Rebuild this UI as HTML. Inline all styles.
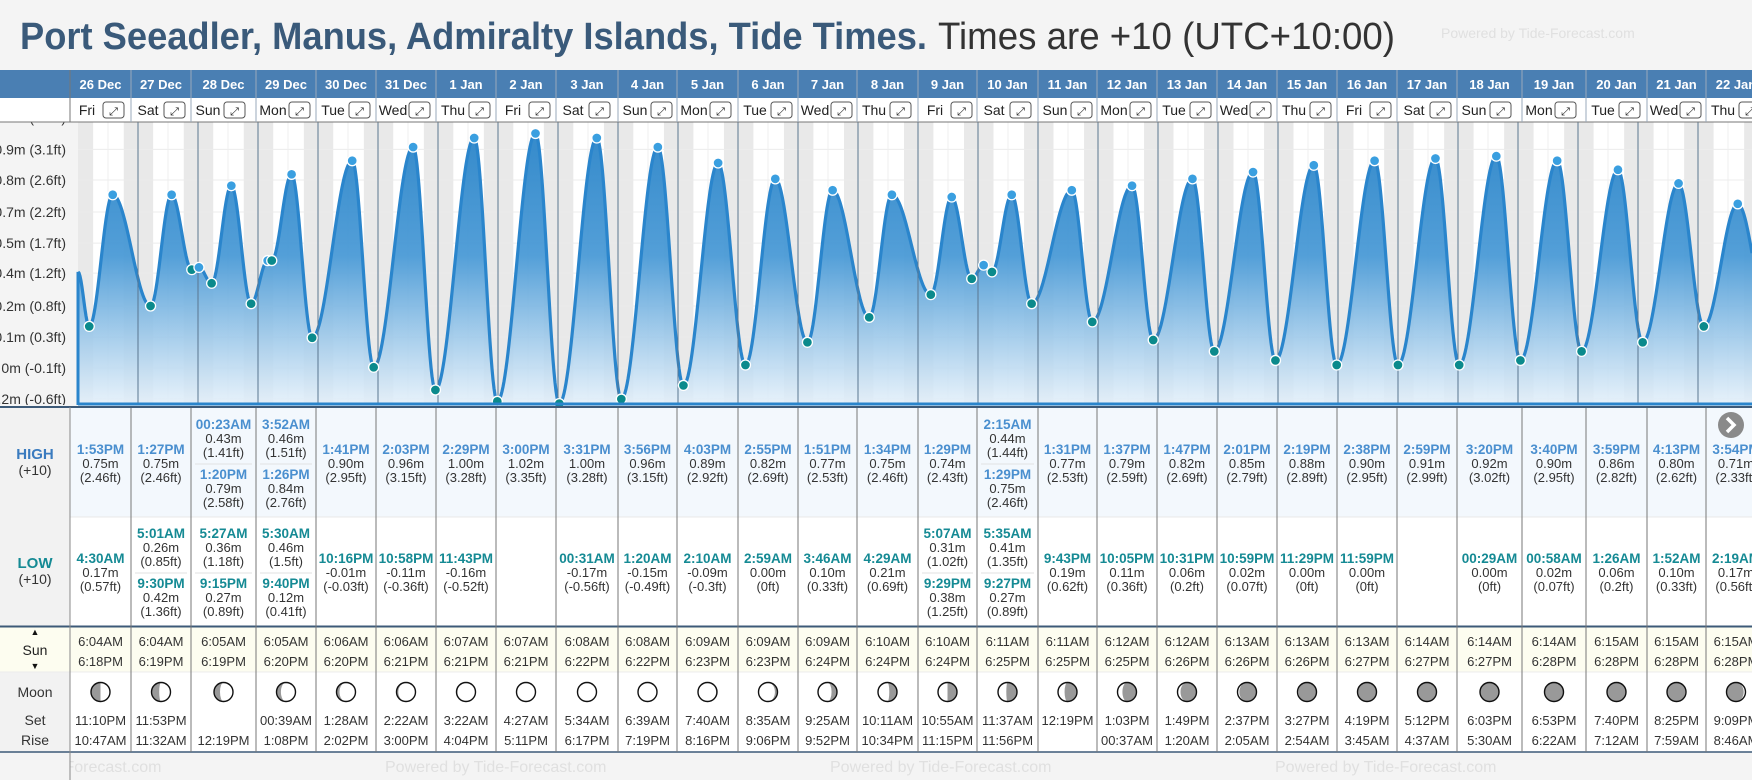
<!DOCTYPE html>
<html><head><meta charset="utf-8"><style>
html,body{margin:0;padding:0;background:#f4f4f4;}
svg{display:block;font-family:"Liberation Sans",Arial,sans-serif;}
</style></head><body>
<svg id="root" width="1752" height="780" viewBox="0 0 1752 780" xmlns="http://www.w3.org/2000/svg">
<rect x="0" y="0" width="1752" height="780" fill="#f4f4f4"/>
<text x="20" y="49" font-size="38" font-weight="bold" fill="#3a5a7a" textLength="907" lengthAdjust="spacingAndGlyphs">Port Seeadler, Manus, Admiralty Islands, Tide Times.</text>
<text x="938" y="49" font-size="38" fill="#333" textLength="457" lengthAdjust="spacingAndGlyphs">Times are +10 (UTC+10:00)</text>
<text x="1441" y="38" font-size="14" fill="#e0e0e0">Powered by Tide-Forecast.com</text>
<g id="g"></g>
</svg>
<script>
const dates=["26 Dec","27 Dec","28 Dec","29 Dec","30 Dec","31 Dec","1 Jan","2 Jan","3 Jan","4 Jan","5 Jan","6 Jan","7 Jan","8 Jan","9 Jan","10 Jan","11 Jan","12 Jan","13 Jan","14 Jan","15 Jan","16 Jan","17 Jan","18 Jan","19 Jan","20 Jan","21 Jan","22 Jan"];
const weekdays=["Fri","Sat","Sun","Mon","Tue","Wed","Thu","Fri","Sat","Sun","Mon","Tue","Wed","Thu","Fri","Sat","Sun","Mon","Tue","Wed","Thu","Fri","Sat","Sun","Mon","Tue","Wed","Thu"];
// tide events: day index, time, height (m), feet label, type
const evDay=[0,0, 1,1,1, 2,2,2,2, 3,3,3,3, 4,4, 5,5, 6,6, 7, 8,8, 9,9, 10,10, 11,11, 12,12, 13,13, 14,14,14, 15,15,15,15, 16,16, 17,17, 18,18, 19,19, 20,20, 21,21, 22, 23,23, 24,24, 25,25, 26,26, 27,27];
const evTime=["4:30AM","1:53PM","5:01AM","1:27PM","9:30PM","00:23AM","5:27AM","1:20PM","9:15PM","3:52AM","5:30AM","1:26PM","9:40PM","1:41PM","10:16PM","2:03PM","10:58PM","2:29PM","11:43PM","3:00PM","00:31AM","3:31PM","1:20AM","3:56PM","2:10AM","4:03PM","2:59AM","2:55PM","3:46AM","1:51PM","4:29AM","1:34PM","5:07AM","1:29PM","9:29PM","2:15AM","5:35AM","1:29PM","9:27PM","1:31PM","9:43PM","1:37PM","10:05PM","1:47PM","10:31PM","2:01PM","10:59PM","2:19PM","11:29PM","2:38PM","11:59PM","2:59PM","00:29AM","3:20PM","00:58AM","3:40PM","1:26AM","3:59PM","1:52AM","4:13PM","2:19AM","3:54PM"];
const evH=[0.17,0.75,0.26,0.75,0.42,0.43,0.36,0.79,0.27,0.46,0.46,0.84,0.12,0.90,-0.01,0.96,-0.11,1.00,-0.16,1.02,-0.17,1.00,-0.15,0.96,-0.09,0.89,0.00,0.82,0.10,0.77,0.21,0.75,0.31,0.74,0.38,0.44,0.41,0.75,0.27,0.77,0.19,0.79,0.11,0.82,0.06,0.85,0.02,0.88,0.00,0.90,0.00,0.91,0.00,0.92,0.02,0.90,0.06,0.86,0.10,0.80,0.17,0.71];
const evFt=["0.57","2.46","0.85","2.46","1.36","1.41","1.18","2.58","0.89","1.51","1.5","2.76","0.41","2.95","-0.03","3.15","-0.36","3.28","-0.52","3.35","-0.56","3.28","-0.49","3.15","-0.3","2.92","0","2.69","0.33","2.53","0.69","2.46","1.02","2.43","1.25","1.44","1.35","2.46","0.89","2.53","0.62","2.59","0.36","2.69","0.2","2.79","0.07","2.89","0","2.95","0","2.99","0","3.02","0.07","2.95","0.2","2.82","0.33","2.62","0.56","2.33"];
const evType=["L","H","L","H","L","H","L","H","L","H","L","H","L","H","L","H","L","H","L","H","L","H","L","H","L","H","L","H","L","H","L","H","L","H","L","H","L","H","L","H","L","H","L","H","L","H","L","H","L","H","L","H","L","H","L","H","L","H","L","H","L","H"];
const sunRise=["6:04AM","6:04AM","6:05AM","6:05AM","6:06AM","6:06AM","6:07AM","6:07AM","6:08AM","6:08AM","6:09AM","6:09AM","6:09AM","6:10AM","6:10AM","6:11AM","6:11AM","6:12AM","6:12AM","6:13AM","6:13AM","6:13AM","6:14AM","6:14AM","6:14AM","6:15AM","6:15AM","6:15AM"];
const sunSet=["6:18PM","6:19PM","6:19PM","6:20PM","6:20PM","6:21PM","6:21PM","6:21PM","6:22PM","6:22PM","6:23PM","6:23PM","6:24PM","6:24PM","6:24PM","6:25PM","6:25PM","6:25PM","6:26PM","6:26PM","6:26PM","6:27PM","6:27PM","6:27PM","6:28PM","6:28PM","6:28PM","6:28PM"];
const moonSet=["11:10PM","11:53PM","","00:39AM","1:28AM","2:22AM","3:22AM","4:27AM","5:34AM","6:39AM","7:40AM","8:35AM","9:25AM","10:11AM","10:55AM","11:37AM","12:19PM","1:03PM","1:49PM","2:37PM","3:27PM","4:19PM","5:12PM","6:03PM","6:53PM","7:40PM","8:25PM","9:09PM"];
const moonRise=["10:47AM","11:32AM","12:19PM","1:08PM","2:02PM","3:00PM","4:04PM","5:11PM","6:17PM","7:19PM","8:16PM","9:06PM","9:52PM","10:34PM","11:15PM","11:56PM","","00:37AM","1:20AM","2:05AM","2:54AM","3:45AM","4:37AM","5:30AM","6:22AM","7:12AM","7:59AM","8:46AM"];
const moonPhase=[0.25,0.28,0.31,0.34,0.37,0.40,0.43,0.45,0.48,0.50,0.57,0.62,0.68,0.72,0.75,0.77,0.80,0.83,0.87,0.90,0.93,0.95,0.97,0.99,0.01,0.03,0.06,0.10];
const yTickVals=[-0.15,-0.013,0.123,0.26,0.405,0.537,0.674,0.815,0.95,1.09];
const yTickLabels=["-0.2m (-0.6ft)","0m (-0.1ft)","0.1m (0.3ft)","0.2m (0.8ft)","0.4m (1.2ft)","0.5m (1.7ft)","0.7m (2.2ft)","0.8m (2.6ft)","0.9m (3.1ft)","1.1m (3.5ft)"];
const startH=0.41, endH=0.2;

const NS="http://www.w3.org/2000/svg";
const G=document.getElementById('g');
function el(tag,attrs,parent,txt){const e=document.createElementNS(NS,tag);for(const k in attrs)e.setAttribute(k,attrs[k]);if(txt!==undefined)e.textContent=txt;(parent||G).appendChild(e);return e;}
function hrs(s){const m=s.match(/(\d+):(\d+)(AM|PM)/);let h=+m[1]%12;if(m[3]==="PM")h+=12;return h+ +m[2]/60;}
const colX=[70,131,191,256,316,376,436,496,556,618,677,738,798,857,918,977,1038,1097,1157,1217,1277,1337,1397,1457,1522,1586,1647,1706,1766];
const CT=122,CB=405,X0=78,DW=60;
function xs(d,t){return X0+DW*(d+t/24);}
function ys(h){return 365-227*h;}

el('rect',{x:X0,y:CT,width:1752-X0,height:CB-CT,fill:'#ffffff'});
for(let d=0;d<28;d++){
  const a=el('rect',{x:xs(d,0),y:CT,width:xs(d,hrs(sunRise[d]))-xs(d,0),height:CB-CT,fill:'#e9e9e9'});
  
  const b=el('rect',{x:xs(d,hrs(sunSet[d])),y:CT,width:xs(d,24)-xs(d,hrs(sunSet[d])),height:CB-CT,fill:'#e9e9e9'});
  
  el('line',{x1:xs(d,12),x2:xs(d,12),y1:CT,y2:CB,stroke:'#efefef'});
}
yTickVals.forEach((v,i)=>{
  el('line',{x1:X0,x2:1752,y1:ys(v),y2:ys(v),stroke:'#ececec'});
  const t=el('text',{x:66,y:ys(v)+5,'font-size':14,'text-anchor':'end',fill:'#333'},G,yTickLabels[i]);
  
});
el('rect',{x:0,y:98,width:70,height:24,fill:'#ffffff'});

const pts=[{x:xs(0,0),h:startH}];
for(let i=0;i<evDay.length;i++)pts.push({x:xs(evDay[i],hrs(evTime[i])),h:evH[i],i:i});
pts.push({x:xs(28,4.5),h:endH});
let dpath='',k=0;
for(let x=X0;x<=1752;x+=1){
  while(k<pts.length-2&&pts[k+1].x<x)k++;
  const a=pts[k],b=pts[k+1];let f=(x-a.x)/(b.x-a.x);f=Math.max(0,Math.min(1,f));
  const h=a.h+(b.h-a.h)*(1-Math.cos(Math.PI*f))/2;
  dpath+=(x===X0?'M':'L')+x+','+ys(h).toFixed(1);
}
const defs=el('defs',{});
const lg=el('linearGradient',{id:'fillg',x1:0,y1:0,x2:0,y2:1},defs);
el('stop',{offset:'0','stop-color':'#2a84c8'},lg);
el('stop',{offset:'0.45','stop-color':'#4a9ad6'},lg);
el('stop',{offset:'1','stop-color':'#e4f0fa','stop-opacity':'0.9'},lg);
const area=el('path',{d:dpath+'L1752,'+CB+'L'+X0+','+CB+'Z',fill:'url(#fillg)','fill-opacity':'0.95'});

el('line',{x1:X0,x2:X0,y1:ys(startH),y2:CB,stroke:'#2a85cc','stroke-width':3});
const line=el('path',{d:dpath,fill:'none',stroke:'#2a85cc','stroke-width':3.2});

for(let d=1;d<28;d++){el('line',{x1:xs(d,0),x2:xs(d,0),y1:CT,y2:CB,stroke:'#5a7690','stroke-width':1});}
pts.forEach(p=>{if(p.i===undefined)return;
  const c=el('circle',{cx:p.x,cy:ys(p.h),r:5,fill:evType[p.i]==='H'?'#3a9fe0':'#0b8a8c',stroke:'#fff','stroke-width':1.3});
  
});
el('line',{x1:X0,x2:1752,y1:CB-1,y2:CB-1,stroke:'#2a85cc','stroke-width':3});
el('rect',{x:0,y:CB,width:70,height:3,fill:'#f4f4f4'});

el('rect',{x:0,y:70,width:1752,height:28,fill:'#4a7fb3'});
el('rect',{x:70,y:98,width:1682,height:24,fill:'#ffffff'});
el('line',{x1:0,x2:1752,y1:122,y2:122,stroke:'#777'});
for(let d=0;d<28;d++){
  const x0=colX[d],x1=colX[d+1],cx=(x0+x1)/2;
  const t=el('text',{x:cx,y:89,'font-size':13,'font-weight':'bold',fill:'#fff','text-anchor':'middle'},G,dates[d]);
  
  const w=el('text',{x:x0+17,y:115,'font-size':14,fill:'#222','text-anchor':'middle'},G,weekdays[d]);
  
  const bx=el('rect',{x:x0+33,y:102,width:21,height:16,rx:3,fill:'#fff',stroke:'#555'});
  
  el('text',{x:x0+43.5,y:115,'font-size':11,'text-anchor':'middle',fill:'#222'},G,'⤢');
  el('line',{x1:x0,x2:x0,y1:70,y2:122,stroke:d===0?'#777':'#9ab'});
}

el('rect',{x:70,y:408,width:1682,height:109,fill:'#f3f8fd'});
el('rect',{x:70,y:517,width:1682,height:109,fill:'#ffffff'});
el('rect',{x:70,y:627,width:1682,height:45,fill:'#fdfdf0'});
el('rect',{x:70,y:672,width:1682,height:80,fill:'#ffffff'});
el('rect',{x:0,y:408,width:70,height:344,fill:'#f2f2f2'});
el('rect',{x:0,y:627,width:70,height:45,fill:'#fdfdf0'});
el('line',{x1:0,x2:1752,y1:407,y2:407,stroke:'#3d5a78','stroke-width':2});
el('line',{x1:70,x2:1752,y1:517,y2:517,stroke:'#e8e8e8'});
el('line',{x1:0,x2:1752,y1:626.5,y2:626.5,stroke:'#3d5a78','stroke-width':2});
el('line',{x1:0,x2:1752,y1:672,y2:672,stroke:'#ececec'});
el('line',{x1:0,x2:1752,y1:752,y2:752,stroke:'#3d5a78','stroke-width':1.5});
el('line',{x1:70,x2:70,y1:407,y2:780,stroke:'#888'});
for(let d=1;d<28;d++)el('line',{x1:colX[d],x2:colX[d],y1:408,y2:752,stroke:'#777'});
[['HIGH',454,'#3a7bbf',true],['(+10)',470,'#333',false],['LOW',563,'#158a94',true],['(+10)',579,'#333',false]].forEach(r=>{
  const t=el('text',{x:35,y:r[1]+5,'font-size':r[3]?15:14,'font-weight':r[3]?'bold':'normal',fill:r[2],'text-anchor':'middle'},G,r[0]);
  
});
el('text',{x:35,y:635,'font-size':9,'text-anchor':'middle',fill:'#111'},G,'▲');
el('text',{x:35,y:655,'font-size':14,'text-anchor':'middle',fill:'#222'},G,'Sun');
el('text',{x:35,y:669,'font-size':9,'text-anchor':'middle',fill:'#111'},G,'▼');
[['Moon',697],['Set',725],['Rise',745]].forEach(r=>{const t=el('text',{x:35,y:r[1],'font-size':14,'text-anchor':'middle',fill:'#333'},G,r[0]);});

function entries(d,type){const r=[];for(let i=0;i<evDay.length;i++)if(evDay[i]===d&&evType[i]===type)r.push(i);return r;}
function drawEntry(i,cx,ty,col){
  const t=el('text',{x:cx,y:ty,'font-size':13.5,'font-weight':'bold',fill:col,'text-anchor':'middle'},G,evTime[i]);
  
  el('text',{x:cx,y:ty+14,'font-size':13,fill:'#333','text-anchor':'middle'},G,evH[i].toFixed(2)+'m');
  el('text',{x:cx,y:ty+28,'font-size':13,fill:'#333','text-anchor':'middle'},G,'('+evFt[i]+'ft)');
}
for(let d=0;d<28;d++){
  const cx=(colX[d]+colX[d+1])/2;
  [['H',462,'#4a8fcf'],['L',571,'#158a94']].forEach(([tp,mid,col])=>{
    const e=entries(d,tp);
    if(e.length===1)drawEntry(e[0],cx,mid-8,col);
    else if(e.length===2){drawEntry(e[0],cx,mid-33,col);drawEntry(e[1],cx,mid+17,col);
      el('line',{x1:colX[d]+4,x2:colX[d+1]-4,y1:mid+2,y2:mid+2,stroke:'#e2e2e2'});}
  });
  el('text',{x:cx,y:646,'font-size':13,fill:'#333','text-anchor':'middle'},G,sunRise[d]);
  el('text',{x:cx,y:666,'font-size':13,fill:'#333','text-anchor':'middle'},G,sunSet[d]);
  el('text',{x:cx,y:725,'font-size':13,fill:'#333','text-anchor':'middle'},G,moonSet[d]);
  el('text',{x:cx,y:745,'font-size':13,fill:'#333','text-anchor':'middle'},G,moonRise[d]);
  const r=9.5,cy=692,p=moonPhase[d];
  const lit=(1-Math.cos(2*Math.PI*p))/2, rx=r*Math.abs(Math.cos(2*Math.PI*p));
  const mg=el('g',{});
  
  el('circle',{cx:cx,cy:cy,r:r,fill:'#fff'},mg);
  let path;
  if(p<0.5){const sw=lit<0.5?0:1;path=`M${cx},${cy-r}A${r},${r} 0 0 0 ${cx},${cy+r}A${rx},${r} 0 0 ${sw} ${cx},${cy-r}Z`;}
  else{const sw=lit<0.5?1:0;path=`M${cx},${cy-r}A${r},${r} 0 0 1 ${cx},${cy+r}A${rx},${r} 0 0 ${sw} ${cx},${cy-r}Z`;}
  el('path',{d:path,fill:'#999'},mg);
  el('circle',{cx:cx,cy:cy,r:r,fill:'none',stroke:'#111','stroke-width':1.4},mg);
}
const nb=el('g',{});

el('circle',{cx:1731,cy:425,r:13,fill:'#8a8a8a'},nb);
el('path',{d:'M1727,418 L1734,425 L1727,432',fill:'none',stroke:'#fff','stroke-width':3.5},nb);
for(let i=0;i<4;i++){const t=el('text',{x:-60+i*445,y:772,'font-size':16,fill:'#e0e0e0'},G,'Powered by Tide-Forecast.com');
  }
el('rect',{x:0,y:753,width:70,height:27,fill:'#f4f4f4'});
el('line',{x1:70,x2:70,y1:752,y2:780,stroke:'#888'});
</script>
</body></html>
